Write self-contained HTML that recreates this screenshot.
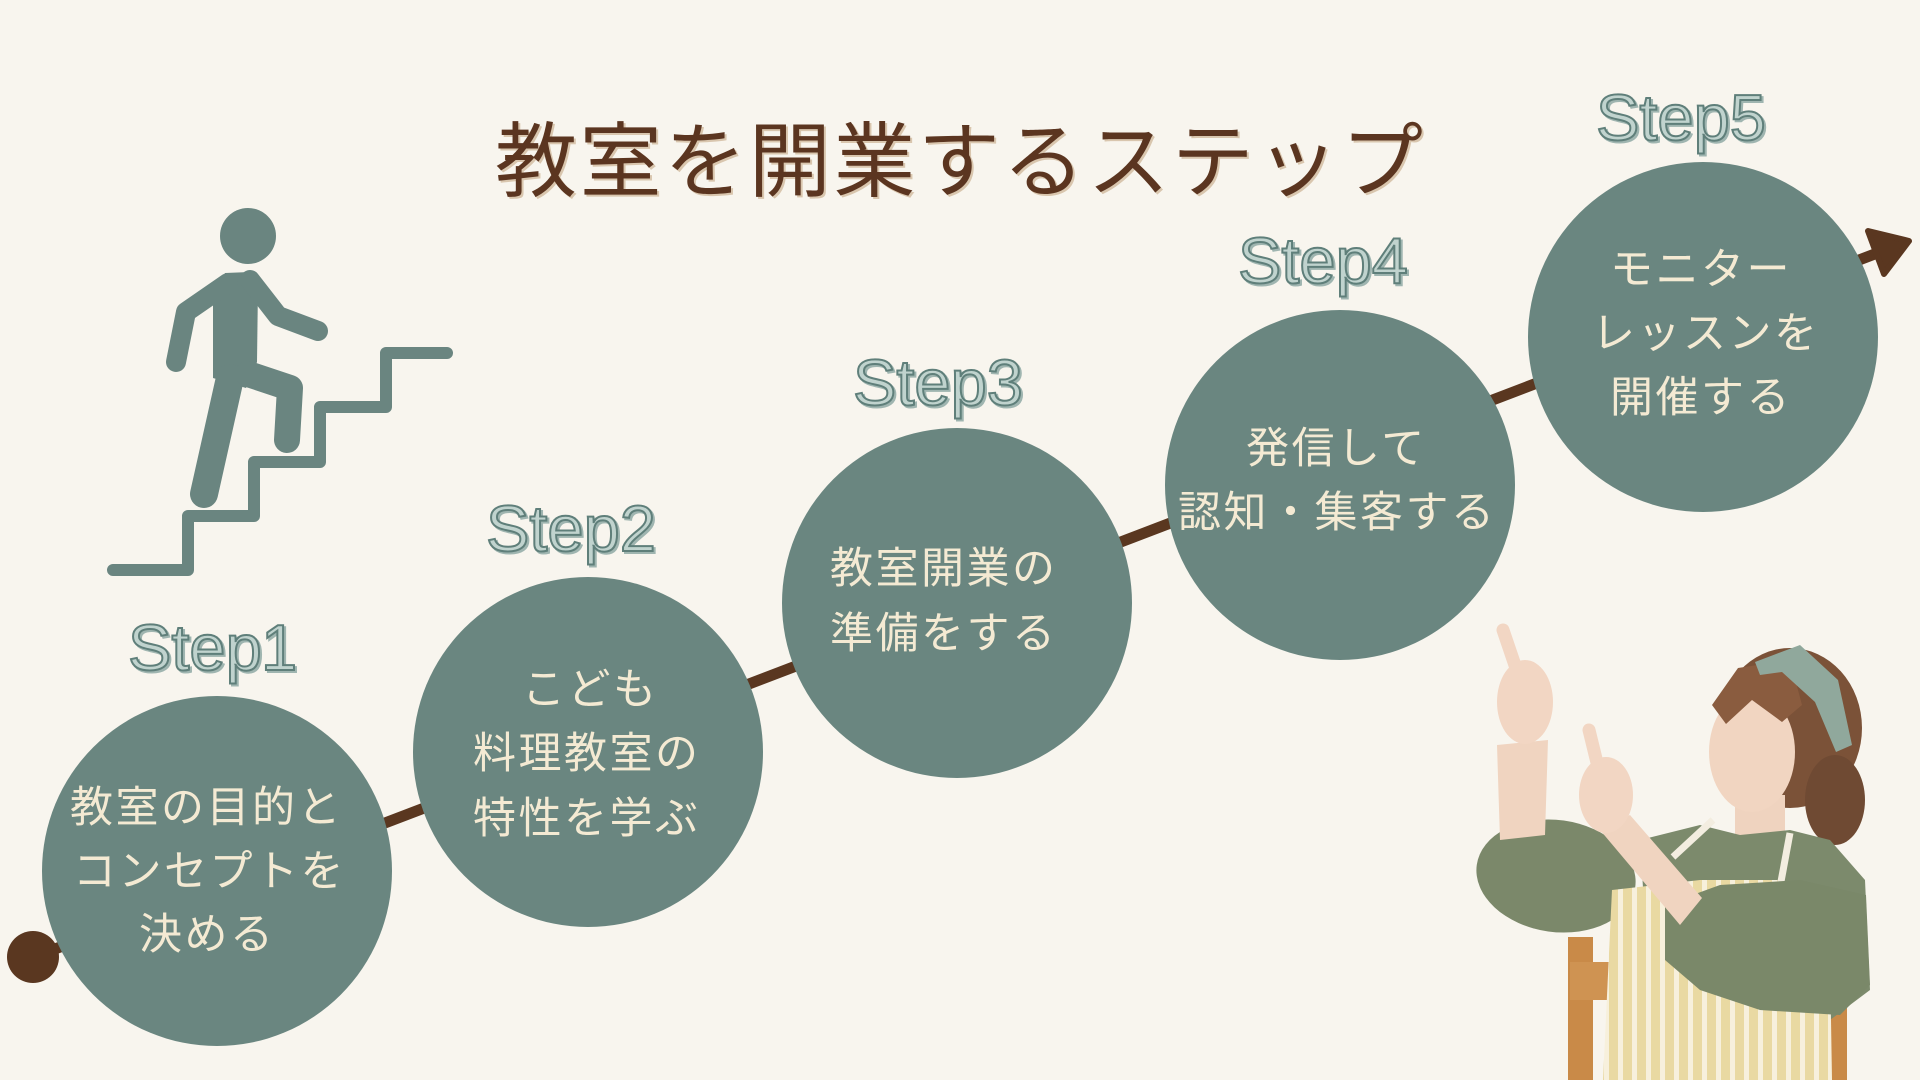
<!DOCTYPE html>
<html><head><meta charset="utf-8"><style>
html,body{margin:0;padding:0;background:#f8f5ee;}
svg{display:block;}
.ct{font-family:"Liberation Sans","Noto Sans CJK JP",sans-serif;font-size:43px;fill:#f4ead3;letter-spacing:2.5px;}
.st{font-family:"Liberation Sans",sans-serif;font-size:65px;}
</style></head><body>
<svg width="1920" height="1080" viewBox="0 0 1920 1080" xmlns="http://www.w3.org/2000/svg">
<defs>
<pattern id="stripe" width="14" height="20" patternUnits="userSpaceOnUse">
<rect width="14" height="20" fill="#e9d9a2"/>
<rect x="8" width="5" height="20" fill="#f7f0dc"/>
</pattern>
</defs>
<rect width="1920" height="1080" fill="#f8f5ee"/>

<!-- title -->
<text x="497" y="192" font-family="'Liberation Sans','Noto Sans CJK JP',sans-serif" font-size="82" fill="#d9c6ae" textLength="928" lengthAdjust="spacing">教室を開業するステップ</text>
<text x="495" y="190" font-family="'Liberation Sans','Noto Sans CJK JP',sans-serif" font-size="82" fill="#5b3520" textLength="928" lengthAdjust="spacing">教室を開業するステップ</text>

<!-- stairs & figure -->
<g fill="#6a8580" stroke="#6a8580">
<circle cx="248" cy="236" r="28" stroke="none"/>
<polygon points="213,300 225,273 250,272 258,285 257,362 246,388 213,378" stroke="none"/>
<polyline points="228,283 186,312 176,362" fill="none" stroke-width="20" stroke-linecap="round" stroke-linejoin="round"/>
<polyline points="250,280 278,316 318,331" fill="none" stroke-width="20" stroke-linecap="round" stroke-linejoin="round"/>
<polyline points="230,378 204,494" fill="none" stroke-width="28" stroke-linecap="round"/>
<polyline points="248,374 290,388 287,440" fill="none" stroke-width="26" stroke-linecap="round" stroke-linejoin="round"/>
<polyline points="447,353 386,353 386,407 320,407 320,462 254,462 254,516 188,516 188,570 113,570" fill="none" stroke-width="12" stroke-linecap="round" stroke-linejoin="round"/>
</g>

<!-- connector line -->
<line x1="34" y1="957" x2="1880" y2="252" stroke="#5a3720" stroke-width="11"/>
<circle cx="33" cy="957" r="26" fill="#5a3720"/>
<polygon points="1868,231 1909,241 1884,274" fill="#5a3720" stroke="#5a3720" stroke-width="6" stroke-linejoin="round"/>

<!-- woman (approximation) -->
<g>
<rect x="1568" y="937" width="25" height="143" fill="#c98a48"/>
<rect x="1570" y="962" width="48" height="38" fill="#cf9352"/>
<rect x="1830" y="983" width="17" height="97" fill="#c98a48"/>
<ellipse cx="1790" cy="728" rx="72" ry="80" fill="#7b5238"/>
<ellipse cx="1835" cy="800" rx="30" ry="45" fill="#6f4a33"/>
<rect x="1735" y="795" width="50" height="55" fill="#efd3bf"/>
<polygon points="1640,840 1700,825 1740,835 1790,830 1830,840 1865,880 1870,990 1830,1020 1650,1000" fill="#7c8a6c"/>
<ellipse cx="1556" cy="876" rx="80" ry="56" fill="#7b886a" transform="rotate(8 1556 876)"/>
<polygon points="1612,890 1700,880 1780,880 1830,960 1832,1080 1603,1080" fill="url(#stripe)"/>
<line x1="1673" y1="857" x2="1713" y2="820" stroke="#f3ede0" stroke-width="7"/>
<line x1="1790" y1="833" x2="1780" y2="887" stroke="#f3ede0" stroke-width="7"/>
<polygon points="1665,905 1720,885 1800,880 1866,895 1870,985 1840,1015 1760,1010 1700,990 1665,960" fill="#7a8869"/>
<polygon points="1600,830 1630,815 1702,898 1680,925" fill="#f0d4c0"/>
<polygon points="1497,745 1548,740 1545,835 1500,840" fill="#f0d4c0"/>
<ellipse cx="1525" cy="702" rx="28" ry="42" fill="#f2d6c3"/>
<line x1="1503" y1="630" x2="1520" y2="680" stroke="#f2d6c3" stroke-width="13" stroke-linecap="round"/>
<ellipse cx="1606" cy="795" rx="27" ry="38" fill="#f2d6c3"/>
<line x1="1589" y1="730" x2="1600" y2="775" stroke="#f2d6c3" stroke-width="13" stroke-linecap="round"/>
<ellipse cx="1752" cy="752" rx="43" ry="60" fill="#f1d5c1"/>
<polygon points="1712,705 1738,668 1790,660 1802,705 1782,722 1752,700 1726,724" fill="#8a5c3f"/>
<polygon points="1755,662 1800,645 1838,680 1852,745 1836,752 1815,702 1782,672 1760,675" fill="#90a89c"/>
</g>

<!-- circles -->
<g fill="#6a8680">
<circle cx="217" cy="871" r="175"/>
<circle cx="588" cy="752" r="175"/>
<circle cx="957" cy="603" r="175"/>
<circle cx="1340" cy="485" r="175"/>
<circle cx="1703" cy="337" r="175"/>
</g>

<!-- circle texts -->
<g class="ct">
<text x="70" y="822">教室の目的と</text>
<text x="73" y="886">コンセプトを</text>
<text x="139" y="949">決める</text>

<text x="522" y="704">こども</text>
<text x="473" y="768">料理教室の</text>
<text x="473" y="833">特性を学ぶ</text>

<text x="830" y="583">教室開業の</text>
<text x="830" y="648">準備をする</text>

<text x="1246" y="463">発信して</text>
<text x="1178" y="527">認知・集客する</text>

<text x="1610" y="284">モニター</text>
<text x="1592" y="348">レッスンを</text>
<text x="1610" y="412">開催する</text>
</g>

<!-- step labels -->
<g class="st">
<g fill="#9fb5b0" stroke="#9fb5b0" stroke-width="2" transform="translate(2,2)">
<text x="128" y="670">Step</text><text x="261" y="670">1</text>
<text x="486" y="551">Step2</text>
<text x="853" y="405">Step3</text>
<text x="1238" y="283">Step4</text>
<text x="1596" y="140">Step5</text>
</g>
<g fill="#c0d3ce" stroke="#5f7f7a" stroke-width="2">
<text x="128" y="670">Step</text><text x="261" y="670">1</text>
<text x="486" y="551">Step2</text>
<text x="853" y="405">Step3</text>
<text x="1238" y="283">Step4</text>
<text x="1596" y="140">Step5</text>
</g>
</g>
</svg>
</body></html>
